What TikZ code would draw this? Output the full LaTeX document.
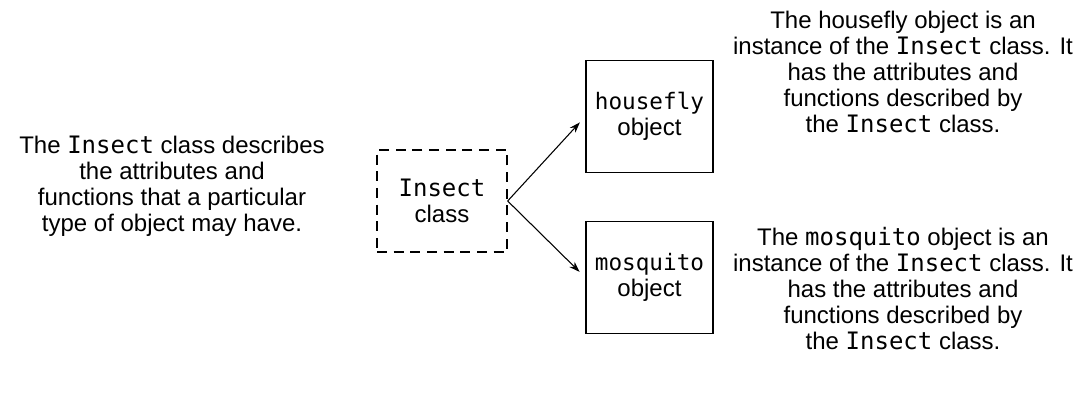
\documentclass[tikz,border=0pt]{standalone}
\usepackage{fontspec}
\setmainfont{Liberation Sans}
\newfontfamily\codefont{DejaVu Sans Mono}
\usetikzlibrary{arrows.meta,positioning}
\newcommand{\code}[1]{{\codefont #1}}

\begin{document}
\begin{tikzpicture}[x=0.75pt,y=-0.75pt,
    every node/.style={font=\fontsize{18}{19.5}\selectfont},
    classbox/.style={draw, dash pattern=on 7.5pt off 5pt, line width=1pt,
        minimum width=97.5pt, minimum height=76.5pt, align=center},
    objbox/.style={draw, line width=1.1pt, minimum width=95.25pt,
        minimum height=84pt, align=center},
    note/.style={align=center},
    link/.style={-{Stealth[length=8pt,width=5.5pt]}, line width=0.8pt, shorten >=6pt}]
    \useasboundingbox (0,0) rectangle (1083,395);

    % Class
    \node[classbox] (insect) at (442,201) {\code{Insect}\\class};
    \node[note] (classnote) at (172,186.5) {The \code{Insect} class describes\\
        the attributes and\\functions that a particular\\type of object may have.};

    % Objects
    \node[objbox] (housefly) at (649.5,116.5) {{\fontsize{17}{19.5}\codefont housefly}\\object};
    \node[objbox] (mosquito) at (649.5,277.5) {{\fontsize{17}{19.5}\codefont mosquito}\\object};

    \draw[link] (insect.east) -- (housefly.west);
    \draw[link] (insect.east) -- (mosquito.west);

    % Notes
    \node[note] (houseflynote) at (903,72) {The housefly object is an\\
        instance of the \code{Insect} class. It\\has the attributes and\\
        functions described by\\the \code{Insect} class.};
    \node[note] (mosquitonote) at (903,289) {The \code{mosquito} object is an\\
        instance of the \code{Insect} class. It\\has the attributes and\\
        functions described by\\the \code{Insect} class.};
\end{tikzpicture}
\end{document}
